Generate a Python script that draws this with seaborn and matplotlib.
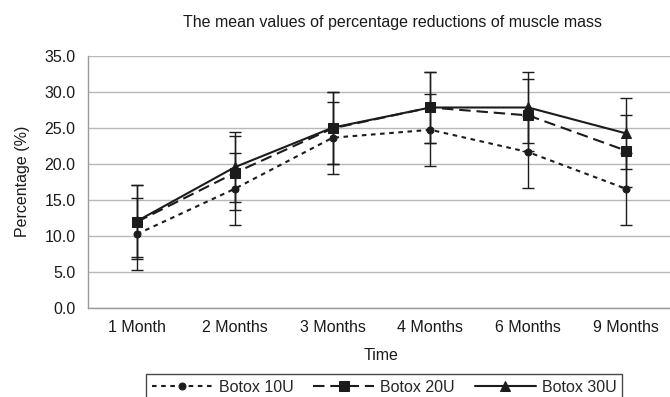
import numpy as np
import pandas as pd
import matplotlib
matplotlib.use("Agg")
import matplotlib.pyplot as plt
import seaborn as sns

# values
months = ["1 Month", "2 Months", "3 Months", "4 Months", "6 Months", "9 Months"]
botox10 = [10.2, 16.5, 23.6, 24.7, 21.6, 16.5]
sd10 = [5.0, 5.0, 5.0, 5.0, 5.0, 5.0]
botox20 = [11.9, 18.7, 24.9, 27.8, 26.7, 21.8]
sd20 = [5.1, 5.1, 5.0, 4.9, 5.0, 5.0]
botox30 = [12.0, 19.5, 25.0, 27.8, 27.8, 24.2]
sd30 = [5.0, 4.9, 5.0, 4.9, 4.9, 4.9]

series = ["Botox 10U", "Botox 20U", "Botox 30U"]
means = [botox10, botox20, botox30]
sds = [sd10, sd20, sd30]

sns.set_theme(style="white")
plt.rcParams['font.family'] = ['Liberation Sans', 'DejaVu Sans']

rows = []
for name, m in zip(series, means):
    for i, v in enumerate(m):
        rows.append({"pos": i, "month": months[i], "value": v, "group": name})
df = pd.DataFrame(rows)

fig = plt.figure(figsize=(6.70, 3.97), dpi=100)
ax = fig.add_axes([88 / 670, 89.5 / 397, 587 / 670, 251.8 / 397])

dark = "#1c1c1c"
fs = 11.5
styles = {
    "Botox 10U": dict(dashes=(2.2, 2.2), marker="o", ms=5),
    "Botox 20U": dict(dashes=(5.5, 2.8), marker="s", ms=6.5),
    "Botox 30U": dict(dashes=(None, None), marker="^", ms=7),
}

# error bars first, then lines on top
for name, m, s in zip(series, means, sds):
    ax.errorbar(np.arange(len(months)), m, yerr=s, fmt="none", ecolor=dark,
                elinewidth=1.0, capsize=4.5, capthick=1.0, zorder=2)

handles = []
for name in series:
    st = styles[name]
    sub = df[df["group"] == name]
    sns.lineplot(data=sub, x="pos", y="value", ax=ax, color=dark, lw=1.5,
                 marker=st["marker"], markersize=st["ms"], markeredgecolor=dark,
                 errorbar=None, legend=False, zorder=3)
    line = ax.lines[-1]
    if st["dashes"][0] is not None:
        line.set_dashes(st["dashes"])
    handles.append(line)

ax.set_xlim(-0.5, 5.5)
ax.set_ylim(0, 35)
ax.set_yticks(np.arange(0, 35.1, 5))
ax.set_yticklabels([f"{v:.1f}" for v in np.arange(0, 35.1, 5)])
ax.set_xticks(np.arange(len(months)))
ax.set_xticklabels(months)
ax.set_xticks(np.arange(-0.5, 5.6, 1), minor=True)

ax.grid(axis="y", color="#b8b8b8", lw=1.0)
ax.set_axisbelow(True)
for side in ["top", "right"]:
    ax.spines[side].set_visible(False)
for side in ["left", "bottom"]:
    ax.spines[side].set_color("#9a9a9a")
    ax.spines[side].set_linewidth(1.0)

ax.tick_params(axis="both", which="both", labelsize=fs, colors="#9a9a9a",
               labelcolor="#1a1a1a", direction="out")
ax.tick_params(axis="x", which="major", length=3, width=1, pad=6)
ax.tick_params(axis="x", which="minor", length=3, width=1)
ax.tick_params(axis="y", which="major", length=0, pad=9)

ax.set_xlabel("Time", fontsize=fs, color="#1a1a1a", labelpad=9)
ax.set_ylabel("Percentage (%)", fontsize=fs, color="#1a1a1a", labelpad=10)
fig.text(392 / 670, 1 - 22 / 397, "The mean values of percentage reductions of muscle mass",
         ha="center", va="center", fontsize=fs, color="#1a1a1a")

leg = fig.legend(handles, series, loc="upper left", bbox_to_anchor=(146 / 670, 1 - 374 / 397),
                 ncol=3, frameon=True, fancybox=False, edgecolor="#1a1a1a",
                 fontsize=fs, handlelength=3.8, handletextpad=0.4, columnspacing=1.25,
                 borderpad=0.35, borderaxespad=0)
leg.get_frame().set_linewidth(1.0)

fig.savefig("out.png", dpi=100)
